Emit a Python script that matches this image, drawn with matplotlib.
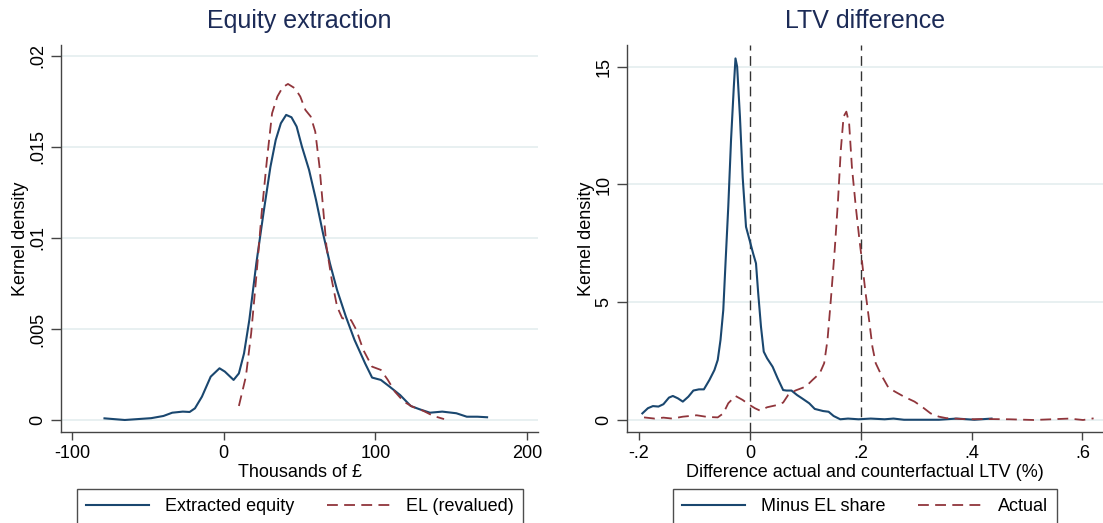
import matplotlib
matplotlib.use("Agg")
import matplotlib.pyplot as plt

plt.rcParams['font.family'] = ['Liberation Sans', 'DejaVu Sans']

# ---- left panel: equity extraction (thousands of GBP) ----
eq_x = [-78.7, -65.3, -47.9, -39.8, -34, -27, -22.5, -19, -14.4, -8.6, -2.8, 0.7, 6.5, 10,
        13.4, 16.9, 21.5, 26.2, 30.8, 34.3, 37.7, 41.2, 44.7, 48.1, 51.6, 56.3, 60.9, 65.5,
        70.1, 74.8, 80.6, 86.3, 93.3, 97.9, 103.7, 109.5, 116.4, 123.4, 129.2, 136.1, 144.2,
        153.5, 160.4, 167.4, 173.8]
eq_y = [0.00009, 0.0, 0.0001, 0.00022, 0.0004, 0.00046, 0.00044, 0.00064, 0.00128, 0.00238,
        0.00284, 0.00266, 0.0022, 0.00256, 0.00366, 0.0055, 0.0086, 0.01135, 0.0139, 0.01538,
        0.0163, 0.01676, 0.01663, 0.01612, 0.01502, 0.01374, 0.01209, 0.01026, 0.0086, 0.00714,
        0.00568, 0.0044, 0.00311, 0.00233, 0.0022, 0.00183, 0.00137, 0.00077, 0.00059, 0.0004,
        0.00046, 0.00037, 0.00018, 0.00018, 0.00015]

el_x = [10, 14.6, 18.1, 21.5, 25, 28.5, 31.9, 35.4, 38.9, 42.4, 47, 50.5, 53.9, 57.4, 60.4,
        63.2, 65.5, 67.8, 71.3, 74.8, 78.2, 84, 87.5, 92.1, 97.9, 103.7, 108.3, 112.9, 118.8,
        124.5, 131.5, 138.4, 145.4]
el_y = [0.00077, 0.00238, 0.00476, 0.00788, 0.01135, 0.01429, 0.01685, 0.01777, 0.01828,
        0.01846, 0.01822, 0.01777, 0.01703, 0.01667, 0.01584, 0.01392, 0.01172, 0.00952,
        0.00769, 0.00623, 0.00559, 0.00549, 0.00495, 0.00385, 0.00293, 0.00275, 0.0022,
        0.00156, 0.00101, 0.00073, 0.00051, 0.00022, 0.00005]

eq_xticks = [-100, 0, 100, 200]
eq_xlabels = ["-100", "0", "100", "200"]
eq_yticks = [0, 0.005, 0.01, 0.015, 0.02]
eq_ylabels = ["0", ".005", ".01", ".015", ".02"]

# ---- right panel: LTV difference ----
mel_x = [-0.194, -0.184, -0.175, -0.165, -0.156, -0.146, -0.139, -0.130, -0.121, -0.111,
         -0.102, -0.092, -0.083, -0.073, -0.064, -0.058, -0.053, -0.048, -0.044, -0.039,
         -0.034, -0.029, -0.026, -0.023, -0.018, -0.013, -0.007, -0.0006, 0.0057, 0.011,
         0.015, 0.020, 0.025, 0.031, 0.041, 0.050, 0.060, 0.066, 0.075, 0.085, 0.094, 0.107,
         0.117, 0.132, 0.142, 0.151, 0.163, 0.177, 0.196, 0.218, 0.243, 0.259, 0.278, 0.341,
         0.373, 0.405, 0.436]
mel_y = [0.28, 0.5, 0.59, 0.57, 0.67, 0.95, 1.02, 0.92, 0.78, 0.99, 1.25, 1.30, 1.30, 1.70,
         2.12, 2.55, 3.40, 4.67, 6.65, 9.06, 11.9, 14.15, 15.35, 15.0, 12.9, 10.3, 8.2, 7.64,
         7.08, 6.65, 5.38, 3.96, 2.9, 2.62, 2.26, 1.77, 1.27, 1.25, 1.25, 1.06, 0.92, 0.71,
         0.47, 0.38, 0.35, 0.17, 0.03, 0.06, 0.03, 0.06, 0.03, 0.06, 0.01, 0.01, 0.06, 0.01,
         0.06]

act_x = [-0.191, -0.172, -0.156, -0.140, -0.121, -0.096, -0.077, -0.058, -0.048, -0.039,
         -0.026, -0.013, -0.0006, 0.009, 0.018, 0.031, 0.050, 0.060, 0.069, 0.082, 0.101,
         0.113, 0.126, 0.134, 0.140, 0.146, 0.153, 0.159, 0.164, 0.169, 0.174, 0.179, 0.184,
         0.191, 0.197, 0.202, 0.208, 0.215, 0.221, 0.227, 0.237, 0.250, 0.262, 0.278, 0.297,
         0.310, 0.326, 0.341, 0.354, 0.392, 0.43, 0.468, 0.512, 0.544, 0.576, 0.601, 0.62]
act_y = [0.11, 0.06, 0.10, 0.06, 0.14, 0.2, 0.13, 0.11, 0.28, 0.71, 1.02, 0.85, 0.64, 0.5,
         0.4, 0.54, 0.64, 0.74, 1.06, 1.25, 1.42, 1.70, 1.98, 2.41, 3.40, 5.09, 7.22, 9.34,
         11.46, 12.88, 13.09, 12.6, 10.75, 9.06, 7.78, 6.79, 5.52, 4.25, 3.11, 2.41, 1.91,
         1.37, 1.20, 0.99, 0.78, 0.57, 0.28, 0.14, 0.08, 0.03, 0.04, 0.03, 0.0, 0.03, 0.06,
         0.0, 0.07]

ref_lines = [0, 0.2]
ltv_xticks = [-0.2, 0, 0.2, 0.4, 0.6]
ltv_xlabels = ["-.2", "0", ".2", ".4", ".6"]
ltv_yticks = [0, 5, 10, 15]
ltv_ylabels = ["0", "5", "10", "15"]

NAVY = '#1a476f'
MAROON = '#90353b'
TITLE_C = '#1c2b57'
GRID_C = '#e4edef'
AXIS_C = '#444444'

W, H = 1103, 523
fig = plt.figure(figsize=(W / 100, H / 100), dpi=100, facecolor='white')


def px_axes(x0, x1, top, bottom):
    return fig.add_axes([x0 / W, 1 - bottom / H, (x1 - x0) / W, (bottom - top) / H])


def style(ax, xticks, xlabels, yticks, ylabels, title, xlabel):
    for s in ['top', 'right']:
        ax.spines[s].set_visible(False)
    for s in ['left', 'bottom']:
        ax.spines[s].set_color(AXIS_C)
        ax.spines[s].set_linewidth(1.0)
    ax.set_xticks(xticks)
    ax.set_xticklabels(xlabels, fontsize=13)
    ax.set_yticks(yticks)
    ax.set_yticklabels(ylabels, fontsize=13, rotation=90, va='center')
    ax.tick_params(axis='x', length=6, width=1, color=AXIS_C, pad=3)
    ax.tick_params(axis='y', length=7.5, width=1, color=AXIS_C, pad=3)
    ax.grid(axis='y', color=GRID_C, lw=1.2)
    ax.set_axisbelow(True)
    ax.set_title(title, fontsize=18, color=TITLE_C, pad=12)
    ax.set_xlabel(xlabel, fontsize=13, labelpad=2)
    ax.set_ylabel("Kernel density", fontsize=13, labelpad=0)


# left
ax1 = px_axes(61, 538, 45, 432)
l1, = ax1.plot(eq_x, eq_y, color=NAVY, lw=1.5, label="Extracted equity")
l2, = ax1.plot(el_x, el_y, color=MAROON, lw=1.3, dashes=(6, 3.5), label="EL (revalued)")
ax1.set_xlim(-107.4, 207.4)
ax1.set_ylim(-0.00066, 0.0206)
style(ax1, eq_xticks, eq_xlabels, eq_yticks, eq_ylabels, "Equity extraction", "Thousands of £")

# right
ax2 = px_axes(627, 1103, 45, 432)
for v in ref_lines:
    ax2.axvline(v, color='#333333', lw=1.0, dashes=(7, 4), zorder=1)
r1, = ax2.plot(mel_x, mel_y, color=NAVY, lw=1.5, label="Minus EL share")
r2, = ax2.plot(act_x, act_y, color=MAROON, lw=1.3, dashes=(6, 3.5), label="Actual")
ax2.set_xlim(-0.2217, 0.637)
ax2.set_ylim(-0.51, 15.92)
style(ax2, ltv_xticks, ltv_xlabels, ltv_yticks, ltv_ylabels, "LTV difference",
      "Difference actual and counterfactual LTV (%)")

for handles, cx in [((l1, l2), 300), ((r1, r2), 865)]:
    leg = fig.legend(handles=list(handles), loc='upper center', ncol=2,
                     bbox_to_anchor=(cx / W, 1 - 489 / H), fontsize=13, frameon=True,
                     fancybox=False, handlelength=3.5, handletextpad=0.9,
                     columnspacing=1.8, borderpad=0.5, borderaxespad=0)
    leg.get_frame().set_edgecolor('#222222')
    leg.get_frame().set_linewidth(1.0)

fig.savefig("out.png", dpi=100, facecolor='white')
